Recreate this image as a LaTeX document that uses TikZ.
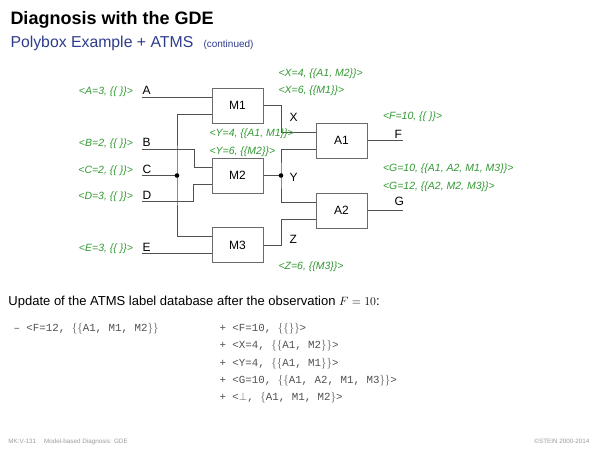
\documentclass[tikz,border=0pt]{standalone}
\usepackage{fontspec}
\setmainfont{Liberation Sans}
\setmonofont{Liberation Mono}
\usetikzlibrary{positioning, calc}
\definecolor{cgreen}{HTML}{339933}
\definecolor{cblue}{HTML}{2D3C8C}
\definecolor{cgrey}{HTML}{505050}
\definecolor{cbox}{HTML}{6A6A6A}
\definecolor{clight}{HTML}{9A9A9A}
\tikzset{
  every picture/.style={line width=1pt},
  gate/.style={draw=cbox, fill=white, line width=1pt, minimum width=51pt, minimum height=35pt, inner sep=0pt, font=\fontsize{12}{14}\selectfont},
  wire/.style={draw=cgrey, line width=1pt},
  val/.style={font=\fontsize{10.5}{12}\selectfont\itshape, text=cgreen, inner sep=0pt},
  sig/.style={font=\fontsize{12}{14}\selectfont, inner sep=0pt, anchor=base west},
  title/.style={font=\fontsize{18}{21}\selectfont\bfseries, inner sep=0pt, anchor=base west},
  note/.style={font=\fontsize{6.3}{8}\selectfont, text=clight, inner sep=0pt},
}

\begin{document}
\begin{tikzpicture}[x=1pt, y=-1pt,
  mono/.style={font=\fontsize{10.8}{13}\selectfont\ttfamily, text=cgrey, inner sep=0pt, anchor=base west},
  dot/.style={circle, fill=black, inner sep=0pt, minimum size=4.6pt}]
  \useasboundingbox (0,0) rectangle (600,450);
  \node[title] (head) at (10,24.5) {Diagnosis with the GDE};
  \node[title, font=\fontsize{15.8}{18}\selectfont, text=cblue] (sub) at (10,47.5) {Polybox Example + ATMS};
  \node[title, font=\fontsize{10}{12}\selectfont, text=cblue] (cont) at (203,47.5) {(continued)};

  \node[gate] (m1) at (237.5,105.5) {M1};
  \node[gate] (m2) at (237.5,175.5) {M2};
  \node[gate] (m3) at (237.5,245) {M3};
  \node[gate] (a1) at (341.5,140.5) {A1};
  \node[gate] (a2) at (341.5,210.5) {A2};
  \foreach \g in {m1,m2,m3,a1,a2} {
    \coordinate (\g-i1) at ([yshift=8.5pt]\g.west);
    \coordinate (\g-i2) at ([yshift=-8.5pt]\g.west);
  }

  \foreach \n/\v/\y in {A/3/97, B/2/149, C/2/175.5, D/3/201.5, E/3/253.5} {
    \coordinate (in\n) at (142,\y);
    \node[sig] (s\n) at (142,\y-2.5) {\n};
    \node[val, anchor=base east] (v\n) at (133.5,\y-2.5) {<\n=\v, \{\{ \}\}>};
  }
  \coordinate (jC) at (177,175.5);
  \coordinate (jY) at (281,175.5);
  \draw[wire] (inA) -- (m1-i1);
  \draw[wire] (inB) -- ++(52,0) |- (m2-i1);
  \draw[wire] (inC) -- (jC);
  \draw[wire] (m1-i2) -| (jC) |- (m3-i1);
  \draw[wire] (inD) -- ++(51,0) |- (m2-i2);
  \draw[wire] (inE) -- (m3-i2);
  \draw[wire] (m1.east) -- ++(18,0) |- (a1-i1);
  \draw[wire] (m2.east) -- (jY);
  \draw[wire] (a1-i2) -| (jY) |- (a2-i1);
  \draw[wire] (m3.east) -- ++(18,0) |- (a2-i2);
  \coordinate (outF) at ([xshift=35pt]a1.east);
  \coordinate (outG) at ([xshift=35pt]a2.east);
  \draw[wire] (a1.east) -- (outF);
  \draw[wire] (a2.east) -- (outG);
  \node[dot] (dC) at (jC) {};
  \node[dot] (dY) at (jY) {};

  \node[sig] (sX) at (289,121.5) {X};
  \node[sig] (sY) at (289,181) {Y};
  \node[sig] (sZ) at (289,243) {Z};
  \node[sig] (sF) at (394,138.5) {F};
  \node[sig] (sG) at (394,205) {G};

  \node[val, anchor=base west] (vX1) at (278,76) {<X=4, \{\{A1, M2\}\}>};
  \node[val, anchor=base west] (vX2) at (278,93) {<X=6, \{\{M1\}\}>};
  \node[val, anchor=base west] (vY1) at (209,136.5) {<Y=4, \{\{A1, M1\}\}>};
  \node[val, anchor=base west] (vY2) at (209,154) {<Y=6, \{\{M2\}\}>};
  \node[val, anchor=base west] (vF) at (382.5,119.5) {<F=10, \{\{ \}\}>};
  \node[val, anchor=base west] (vG1) at (382.5,171.5) {<G=10, \{\{A1, A2, M1, M3\}\}>};
  \node[val, anchor=base west] (vG2) at (382.5,189) {<G=12, \{\{A2, M2, M3\}\}>};
  \node[val, anchor=base west] (vZ) at (278,269.5) {<Z=6, \{\{M3\}\}>};

  \node[sig, font=\fontsize{13}{15}\selectfont] (upd) at (8,305.5) {Update of the ATMS label database after the observation $F=10$:};
  \node[mono] (old) at (13,331.5) {– <F=12, $\{\{$A1, M1, M2$\}\}$};
  \foreach \t [count=\i from 0] in {{<F=10, $\{\{\}\}$>}, {<X=4, $\{\{$A1, M2$\}\}$>}, {<Y=4, $\{\{$A1, M1$\}\}$>}, {<G=10, $\{\{$A1, A2, M1, M3$\}\}$>}, {<$\bot$, $\{$A1, M1, M2$\}$>}}
    \node[mono] (new\i) at (219,331.5+17.25*\i) {+ \t};

  \node[note, anchor=base west] (foot) at (8,443.5) {MK:V-131\hspace{8pt}Model-based Diagnosis: GDE};
  \node[note, anchor=base east] (copy) at (590,443.5) {\textcopyright STEIN 2000-2014};
\end{tikzpicture}
\end{document}
